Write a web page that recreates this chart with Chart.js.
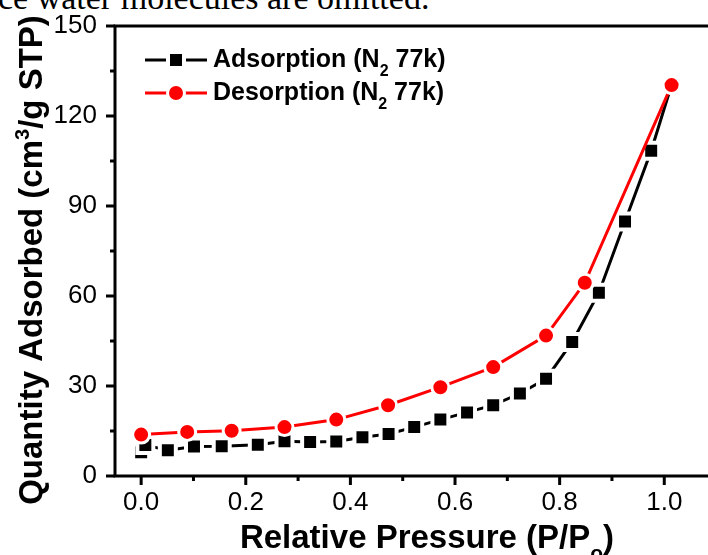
<!DOCTYPE html>
<html>
<head>
<meta charset="utf-8">
<script src="https://cdn.jsdelivr.net/npm/chart.js@4.4.1/dist/chart.umd.min.js"></script>
<style>
    html, body { margin: 0; padding: 0; background: #fff; overflow: hidden; }
    #wrap { position: relative; width: 708px; height: 555px; }
    #caption {
        position: absolute; left: -2px; top: -19px;
        font: 34px "Liberation Serif", "Times New Roman", serif;
        line-height: 34px; white-space: nowrap; color: #000;
    }
    #chart { position: absolute; left: 0; top: 0; }
</style>
</head>
<body>
<div id="wrap">
    <div id="caption">ce water molecules are omitted.</div>
    <canvas id="chart" width="708" height="555"></canvas>
</div>
<script>
// Relative pressure (P/P0) and quantity adsorbed (cm3/g STP)
const adsorptionP = [0.0, 0.008, 0.051, 0.101, 0.154, 0.223, 0.274, 0.323, 0.373, 0.423, 0.473,
    0.522, 0.572, 0.623, 0.673, 0.724, 0.774, 0.824, 0.875, 0.925, 0.975, 1.014];
const adsorptionQ = [7.9, 10.3, 8.6, 9.8, 9.9, 10.4, 11.6, 11.3, 11.5, 12.9, 14.0,
    16.3, 18.8, 21.2, 23.6, 27.5, 32.4, 44.7, 61.1, 84.8, 108.4, 130.4];

const desorptionP = [0.0, 0.088, 0.173, 0.274, 0.373, 0.472, 0.572, 0.673, 0.774, 0.848, 1.014];
const desorptionQ = [13.8, 14.7, 15.1, 16.3, 18.8, 23.6, 29.6, 36.3, 46.8, 64.4, 130.3];

const xMajorTicks = [0.0, 0.2, 0.4, 0.6, 0.8, 1.0];
const xMinorTicks = [0.1, 0.3, 0.5, 0.7, 0.9];
const yMajorTicks = [0, 30, 60, 90, 120, 150];
const yMinorTicks = [15, 45, 75, 105, 135];

const FONT = '"Liberation Sans", Arial, sans-serif';

function toPoints(xs, ys) {
    return xs.map((x, i) => ({ x: x, y: ys[i] }));
}

// draws a line of text made of parts [text, size, dy], centred on x
function drawRich(ctx, parts, x, y) {
    let total = 0;
    parts.forEach((p) => {
        ctx.font = `bold ${p[1]}px ${FONT}`;
        total += ctx.measureText(p[0]).width;
    });
    drawRichLeft(ctx, parts, x - total / 2, y);
}

function drawRichLeft(ctx, parts, x, y) {
    let cx = x;
    parts.forEach((p) => {
        ctx.font = `bold ${p[1]}px ${FONT}`;
        ctx.fillText(p[0], cx, y + p[2]);
        cx += ctx.measureText(p[0]).width;
    });
}

const frame = {
    id: 'frame',
    afterDatasetsDraw(chart) {
        const { ctx, chartArea: a, scales: { x, y } } = chart;
        ctx.save();
        ctx.strokeStyle = '#000';
        ctx.lineWidth = 3;
        ctx.beginPath();
        ctx.moveTo(a.right, a.top);
        ctx.lineTo(a.left, a.top);
        ctx.lineTo(a.left, a.bottom);
        ctx.lineTo(a.right, a.bottom);
        ctx.stroke();

        ctx.beginPath();
        xMajorTicks.forEach((v) => {
            const px = x.getPixelForValue(v);
            ctx.moveTo(px, a.bottom);
            ctx.lineTo(px, a.bottom + 9);
        });
        xMinorTicks.forEach((v) => {
            const px = x.getPixelForValue(v);
            ctx.moveTo(px, a.bottom);
            ctx.lineTo(px, a.bottom + 5);
        });
        yMajorTicks.forEach((v) => {
            const py = y.getPixelForValue(v);
            ctx.moveTo(a.left, py);
            ctx.lineTo(a.left - 9, py);
        });
        yMinorTicks.forEach((v) => {
            const py = y.getPixelForValue(v);
            ctx.moveTo(a.left, py);
            ctx.lineTo(a.left - 5, py);
        });
        ctx.stroke();
        ctx.restore();
    }
};

const axisTitles = {
    id: 'axisTitles',
    afterDraw(chart) {
        const ctx = chart.ctx;
        ctx.save();
        ctx.fillStyle = '#000';
        ctx.textAlign = 'left';
        ctx.textBaseline = 'alphabetic';

        drawRich(ctx, [['Relative Pressure (P/P', 33, 0], ['o', 21, 12], [')', 33, 0]], 427, 548);

        ctx.translate(42, 260);
        ctx.rotate(-Math.PI / 2);
        drawRich(ctx, [['Quantity Adsorbed (cm', 33, 0], ['3', 20, -13], ['/g STP)', 33, 0]], 0, 0);
        ctx.restore();
    }
};

const legendBox = {
    id: 'legendBox',
    afterDraw(chart) {
        const ctx = chart.ctx;
        const a = chart.chartArea;
        const rows = [
            { ds: chart.data.datasets[0], y: a.top + 34, name: 'Adsorption (N' },
            { ds: chart.data.datasets[1], y: a.top + 67, name: 'Desorption (N' },
        ];
        ctx.save();
        rows.forEach((r) => {
            const x0 = a.left + 30;
            ctx.strokeStyle = r.ds.borderColor;
            ctx.lineWidth = r.ds.borderWidth;
            ctx.beginPath();
            ctx.moveTo(x0, r.y);
            ctx.lineTo(x0 + 62, r.y);
            ctx.stroke();

            ctx.fillStyle = r.ds.pointBackgroundColor;
            ctx.strokeStyle = r.ds.pointBorderColor;
            ctx.lineWidth = r.ds.pointBorderWidth;
            Chart.helpers.drawPoint(ctx, {
                pointStyle: r.ds.pointStyle,
                radius: r.ds.pointRadius,
                rotation: 0,
                borderWidth: r.ds.pointBorderWidth,
            }, x0 + 31, r.y);

            ctx.fillStyle = '#000';
            ctx.textAlign = 'left';
            ctx.textBaseline = 'alphabetic';
            drawRichLeft(ctx, [[r.name, 25, 0], ['2', 16, 9], [' 77k)', 25, 0]], x0 + 68, r.y + 7);
        });
        ctx.restore();
    }
};

const ctx = document.getElementById('chart');

const chart = new Chart(ctx, {
    type: 'scatter',
    data: {
        datasets: [
            {
                label: 'Adsorption (N2 77k)',
                data: toPoints(adsorptionP, adsorptionQ),
                showLine: true,
                borderColor: '#000000',
                borderWidth: 3,
                pointStyle: 'rect',
                pointRadius: 11.3,
                pointBackgroundColor: '#000000',
                pointBorderColor: '#ffffff',
                pointBorderWidth: 4,
                order: 1,
            },
            {
                label: 'Desorption (N2 77k)',
                data: toPoints(desorptionP, desorptionQ),
                showLine: true,
                borderColor: '#ff0000',
                borderWidth: 3,
                pointStyle: 'circle',
                pointRadius: 8.5,
                pointBackgroundColor: '#ff0000',
                pointBorderColor: '#ffffff',
                pointBorderWidth: 3,
                order: 0,
            },
        ]
    },
    options: {
        responsive: false,
        animation: false,
        events: [],
        layout: { autoPadding: false, padding: { top: 26, right: 0, left: 0, bottom: 0 } },
        plugins: {
            legend: { display: false },
            tooltip: { enabled: false },
        },
        scales: {
            x: {
                type: 'linear',
                min: -0.05,
                max: 1.0836,
                grid: { display: false },
                border: { display: false },
                afterBuildTicks: (scale) => {
                    scale.ticks = xMajorTicks.map((v) => ({ value: v }));
                },
                afterFit: (scale) => { scale.height = 79; },
                ticks: {
                    color: '#000',
                    font: { family: FONT, size: 26 },
                    padding: 3,
                    maxRotation: 0,
                    autoSkip: false,
                    callback: (v) => Number(v).toFixed(1),
                },
            },
            y: {
                type: 'linear',
                min: 0,
                max: 150,
                grid: { display: false },
                border: { display: false },
                afterBuildTicks: (scale) => {
                    scale.ticks = yMajorTicks.map((v) => ({ value: v }));
                },
                afterFit: (scale) => { scale.width = 115; },
                ticks: {
                    color: '#000',
                    font: { family: FONT, size: 26 },
                    padding: 10,
                },
            },
        },
    },
    plugins: [frame, axisTitles, legendBox],
});
</script>
</body>
</html>
